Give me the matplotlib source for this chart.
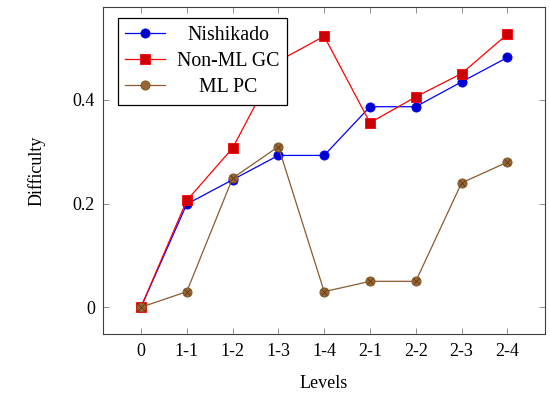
import matplotlib
matplotlib.use("Agg")
import matplotlib.pyplot as plt
from matplotlib.transforms import Affine2D

plt.rcParams['font.family'] = ['Liberation Serif', 'DejaVu Serif']
plt.rcParams['mathtext.fontset'] = 'stix'

levels = ["0", "1-1", "1-2", "1-3", "1-4", "2-1", "2-2", "2-3", "2-4"]
nishikado = [0.0, 0.199, 0.246, 0.293, 0.293, 0.387, 0.387, 0.435, 0.482]
non_ml_gc = [0.0, 0.206, 0.307, 0.475, 0.523, 0.356, 0.406, 0.451, 0.527]
ml_pc = [0.0, 0.030, 0.249, 0.310, 0.030, 0.050, 0.050, 0.240, 0.280]
yticks = [0, 0.2, 0.4]
ytick_labels = ["0", "0.2", "0.4"]

fig = plt.figure(figsize=(5.5, 3.95), dpi=100)
ax = fig.add_axes([0.188, 0.154, 0.802, 0.829])

x = list(range(len(levels)))
ax.plot(x, nishikado, color='#0000ff', lw=0.9, marker='o', ms=6.6,
        mfc='#0000cc', mec='#0000ff', mew=0.6, label='Nishikado', zorder=3)
ax.plot(x, non_ml_gc, color='#ff0000', lw=0.9, marker='s', ms=6.6,
        mfc='#cc0000', mec='#ff0000', mew=0.6, label='Non-ML GC', zorder=3)
ax.plot(x, ml_pc, color='#8c5a2e', lw=0.9, marker='o', ms=6.6,
        mfc='#996633', mec='#7a5020', mew=0.6, label='ML PC', zorder=4)
# otimes crosses on ML PC markers
ax.plot(x, ml_pc, ls='none', marker='x', ms=4.0, mec='#5a3a18', mew=0.6, zorder=5)

ax.set_xlim(-0.82, 8.81)
ax.set_ylim(-0.052, 0.58)
ax.set_xticks(x)
ax.set_xticklabels(levels)
ax.set_yticks(yticks)
ax.set_yticklabels(ytick_labels)
ax.tick_params(direction='in', length=4.5, width=0.6, color='#808080',
               labelsize=13, top=True, right=True, pad=6)
for s in ax.spines.values():
    s.set_color('#404040')
    s.set_linewidth(0.8)

ax.set_xlabel('Levels', fontsize=13, labelpad=11)
ax.set_ylabel('Difficulty', fontsize=13, labelpad=20)

leg = ax.legend(loc='upper left', bbox_to_anchor=(0.032, 0.965), borderaxespad=0,
                fontsize=14.3, frameon=True, fancybox=False, edgecolor='black',
                framealpha=1, handlelength=2.0, labelspacing=0.36,
                borderpad=0.38, handletextpad=0.6)
leg.get_frame().set_linewidth(0.9)

fig.canvas.draw()
r = fig.canvas.get_renderer()
texts = leg.get_texts()
widths = [t.get_window_extent(r).width for t in texts]
W = max(widths)
for t, w in zip(texts, widths):
    t.set_transform(t.get_transform() + Affine2D().translate((W - w) / 2, 0))

fig.savefig('out.png', dpi=100)
